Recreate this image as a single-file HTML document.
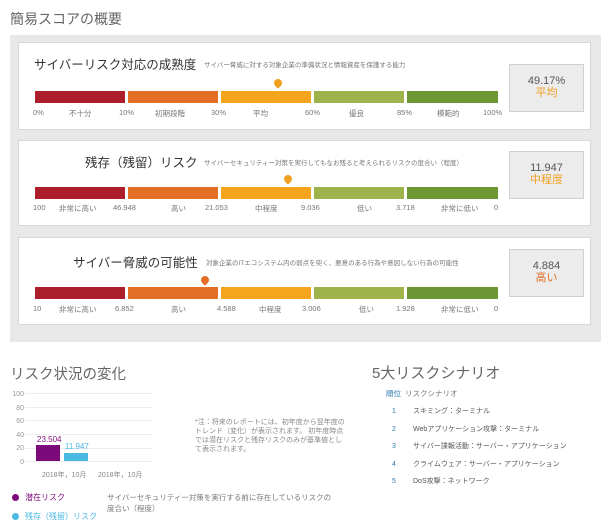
<!DOCTYPE html>
<html><head><meta charset="utf-8"><style>
*{margin:0;padding:0;box-sizing:border-box}
body{width:610px;height:526px;background:#fff;font-family:"Liberation Sans","Noto Sans CJK JP",sans-serif;color:#555;position:relative;overflow:hidden}
.a{position:absolute;white-space:nowrap}
.panel{position:absolute;left:10px;top:35px;width:591px;height:307px;background:#e8e8e8}
.card{position:absolute;left:18px;width:573px;background:#fff;border:1px solid #d8d8d8}
.seg{position:absolute;height:12px}
.box{position:absolute;left:490px;width:75px;height:48px;background:#ececec;border:1px solid #d0d0d0;text-align:center;font-size:11px;color:#555;padding-top:10px;line-height:12px}
.lbl{position:absolute;font-size:7.5px;color:#777;white-space:nowrap}
.pin{position:absolute;width:8px;height:8px;border-radius:50% 50% 50% 0;transform:rotate(-45deg)}
.t{position:absolute;font-size:12.5px;color:#333;white-space:nowrap}
.s{position:absolute;font-size:6.5px;color:#777;white-space:nowrap}
</style></head><body>
<div class="a" style="left:10px;top:9px;font-size:14px;color:#666">簡易スコアの概要</div>
<div class="panel"></div>

<!-- card 1 -->
<div class="card" style="top:42px;height:88px">
 <div class="t" style="left:15px;top:11px">サイバーリスク対応の成熟度</div>
 <div class="s" style="left:185px;top:16px">サイバー脅威に対する対象企業の準備状況と情報資産を保護する能力</div>
 <div class="pin" style="left:255px;top:36px;background:#f0a020"></div>
 <div class="seg" style="left:16px;top:48px;width:90px;background:#ac1e2c"></div>
 <div class="seg" style="left:109px;top:48px;width:90px;background:#e36e25"></div>
 <div class="seg" style="left:202px;top:48px;width:90px;background:#f4a51c"></div>
 <div class="seg" style="left:295px;top:48px;width:90px;background:#9fb34d"></div>
 <div class="seg" style="left:388px;top:48px;width:91px;background:#6d9634"></div>
 <div class="lbl" style="left:14px;top:65px">0%</div><div class="lbl" style="left:50px;top:65px">不十分</div>
 <div class="lbl" style="left:100px;top:65px">10%</div><div class="lbl" style="left:136px;top:65px">初期段階</div>
 <div class="lbl" style="left:192px;top:65px">30%</div><div class="lbl" style="left:234px;top:65px">平均</div>
 <div class="lbl" style="left:286px;top:65px">60%</div><div class="lbl" style="left:330px;top:65px">優良</div>
 <div class="lbl" style="left:378px;top:65px">85%</div><div class="lbl" style="left:418px;top:65px">模範的</div>
 <div class="lbl" style="left:464px;top:65px">100%</div>
 <div class="box" style="top:21px">49.17%<br><span style="color:#f0a020">平均</span></div>
</div>

<!-- card 2 -->
<div class="card" style="top:140px;height:86px">
 <div class="t" style="left:66px;top:11px">残存（残留）リスク</div>
 <div class="s" style="left:185px;top:16px">サイバーセキュリティー対策を実行してもなお残ると考えられるリスクの度合い（程度）</div>
 <div class="pin" style="left:265px;top:34px;background:#f0a020"></div>
 <div class="seg" style="left:16px;top:46px;width:90px;background:#ac1e2c"></div>
 <div class="seg" style="left:109px;top:46px;width:90px;background:#e36e25"></div>
 <div class="seg" style="left:202px;top:46px;width:90px;background:#f4a51c"></div>
 <div class="seg" style="left:295px;top:46px;width:90px;background:#9fb34d"></div>
 <div class="seg" style="left:388px;top:46px;width:91px;background:#6d9634"></div>
 <div class="lbl" style="left:14px;top:62px">100</div><div class="lbl" style="left:40px;top:62px">非常に高い</div>
 <div class="lbl" style="left:94px;top:62px">46.948</div><div class="lbl" style="left:152px;top:62px">高い</div>
 <div class="lbl" style="left:186px;top:62px">21.053</div><div class="lbl" style="left:236px;top:62px">中程度</div>
 <div class="lbl" style="left:282px;top:62px">9.036</div><div class="lbl" style="left:338px;top:62px">低い</div>
 <div class="lbl" style="left:377px;top:62px">3.718</div><div class="lbl" style="left:422px;top:62px">非常に低い</div>
 <div class="lbl" style="left:475px;top:62px">0</div>
 <div class="box" style="top:10px">11.947<br><span style="color:#f0a020">中程度</span></div>
</div>

<!-- card 3 -->
<div class="card" style="top:237px;height:88px">
 <div class="t" style="left:54px;top:14px">サイバー脅威の可能性</div>
 <div class="s" style="left:187px;top:19px">対象企業のITエコシステム内の弱点を突く、悪意のある行為や意図しない行為の可能性</div>
 <div class="pin" style="left:182px;top:38px;background:#e36e25"></div>
 <div class="seg" style="left:16px;top:49px;width:90px;background:#ac1e2c"></div>
 <div class="seg" style="left:109px;top:49px;width:90px;background:#e36e25"></div>
 <div class="seg" style="left:202px;top:49px;width:90px;background:#f4a51c"></div>
 <div class="seg" style="left:295px;top:49px;width:90px;background:#9fb34d"></div>
 <div class="seg" style="left:388px;top:49px;width:91px;background:#6d9634"></div>
 <div class="lbl" style="left:14px;top:66px">10</div><div class="lbl" style="left:40px;top:66px">非常に高い</div>
 <div class="lbl" style="left:96px;top:66px">6.852</div><div class="lbl" style="left:152px;top:66px">高い</div>
 <div class="lbl" style="left:198px;top:66px">4.588</div><div class="lbl" style="left:240px;top:66px">中程度</div>
 <div class="lbl" style="left:283px;top:66px">3.006</div><div class="lbl" style="left:340px;top:66px">低い</div>
 <div class="lbl" style="left:377px;top:66px">1.928</div><div class="lbl" style="left:422px;top:66px">非常に低い</div>
 <div class="lbl" style="left:475px;top:66px">0</div>
 <div class="box" style="top:11px">4.884<br><span style="color:#e36e25">高い</span></div>
</div>

<!-- bottom left -->
<div class="a" style="left:10px;top:363px;font-size:14.5px;color:#666">リスク状況の変化</div>
<div class="a" style="left:10px;top:388px;font-size:7px;color:#999;line-height:13.6px;text-align:right;width:14px">100<br>80<br>60<br>40<br>20<br>0</div>
<div class="a" style="left:25px;top:393px;width:128px;height:1px;background:#eee"></div>
<div class="a" style="left:25px;top:407px;width:128px;height:1px;background:#eee"></div>
<div class="a" style="left:25px;top:420px;width:128px;height:1px;background:#eee"></div>
<div class="a" style="left:25px;top:434px;width:128px;height:1px;background:#eee"></div>
<div class="a" style="left:25px;top:448px;width:128px;height:1px;background:#eee"></div>
<div class="a" style="left:25px;top:461px;width:128px;height:1px;background:#eee"></div>
<div class="a" style="left:36px;top:445px;width:24px;height:16px;background:#7b0a7b"></div>
<div class="a" style="left:64px;top:453px;width:24px;height:8px;background:#4ab9e4"></div>
<div class="a" style="left:37px;top:435px;font-size:8px;color:#7b0a7b">23.504</div>
<div class="a" style="left:65px;top:442px;font-size:8px;color:#4ab9e4">11.947</div>
<div class="a" style="left:42px;top:470px;font-size:7px;color:#888">2018年，10月</div>
<div class="a" style="left:98px;top:470px;font-size:7px;color:#888">2018年，10月</div>
<div class="a" style="left:195px;top:418px;font-size:7px;color:#888;line-height:9px">*注：将来のレポートには、初年度から翌年度の<br>トレンド（変化）が表示されます。 初年度時点<br>では潜在リスクと残存リスクのみが基準値とし<br>て表示されます。</div>
<div class="a" style="left:12px;top:494px;width:7px;height:7px;border-radius:50%;background:#7b0a7b"></div>
<div class="a" style="left:25px;top:492px;font-size:8px;color:#7b0a7b">潜在リスク</div>
<div class="a" style="left:12px;top:513px;width:7px;height:7px;border-radius:50%;background:#4ab9e4"></div>
<div class="a" style="left:25px;top:511px;font-size:8px;color:#4ab9e4">残存（残留）リスク</div>
<div class="a" style="left:107px;top:492px;font-size:7.5px;color:#777;line-height:11px">サイバーセキュリティー対策を実行する前に存在しているリスクの<br>度合い（程度）</div>

<!-- bottom right -->
<div class="a" style="left:372px;top:362px;font-size:15px;color:#666">5大リスクシナリオ</div>
<div class="a" style="left:386px;top:388px;font-size:7.5px;color:#2a7bab">順位</div>
<div class="a" style="left:405px;top:388px;font-size:7.5px;color:#777">リスクシナリオ</div>
<div class="a" style="left:392px;top:403px;font-size:7px;color:#2a7bab;line-height:17.5px">1<br>2<br>3<br>4<br>5</div>
<div class="a" style="left:413px;top:403px;font-size:7px;color:#555;line-height:17.5px">スキミング：ターミナル<br>Webアプリケーション攻撃：ターミナル<br>サイバー諜報活動：サーバー・アプリケーション<br>クライムウェア：サーバー・アプリケーション<br>DoS攻撃：ネットワーク</div>
</body></html>
